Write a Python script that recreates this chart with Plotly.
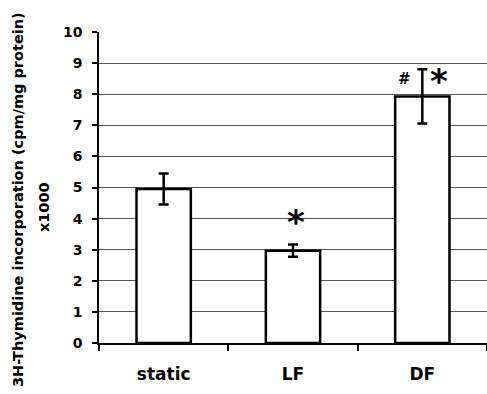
import plotly.graph_objects as go

categories = ["static", "LF", "DF"]
values = [4.95, 2.97, 7.93]
errors = [0.5, 0.2, 0.87]
y_ticks = [0, 1, 2, 3, 4, 5, 6, 7, 8, 9, 10]
grid_vals = [1, 2, 3, 4, 5, 6, 7, 8, 9]
title_line1 = "3H-Thymidine incorporation (cpm/mg protein)"
title_line2 = "x1000"

FONT = "DejaVu Sans, sans-serif"

fig = go.Figure()
fig.add_trace(go.Bar(
    x=categories, y=values, width=0.42,
    marker=dict(color="white", line=dict(color="black", width=2.5)),
    error_y=dict(type="data", array=errors, visible=True, color="black", thickness=2.5, width=5),
))

# significance markers
fig.add_annotation(x="LF", y=values[1] + errors[1], yshift=22, xshift=3, text="<b>*</b>",
                   showarrow=False, font=dict(family=FONT, size=34, color="black"))
fig.add_annotation(x="DF", y=values[2] + errors[2], xshift=-18, yshift=-10, text="<b>#</b>",
                   showarrow=False, font=dict(family=FONT, size=15, color="black"))
fig.add_annotation(x="DF", y=values[2] + errors[2], xshift=17, yshift=-12, text="<b>*</b>",
                   showarrow=False, font=dict(family=FONT, size=34, color="black"))

# axis title (two rotated lines)
fig.add_annotation(xref="paper", yref="paper", x=-0.2088, y=0.463, text="<b>%s</b>" % title_line1,
                   xanchor="center", yanchor="middle",
                   textangle=-90, showarrow=False, font=dict(family=FONT, size=14.5, color="black"))
fig.add_annotation(xref="paper", yref="paper", x=-0.1418, y=0.437, text="<b>%s</b>" % title_line2,
                   xanchor="center", yanchor="middle",
                   textangle=-90, showarrow=False, font=dict(family=FONT, size=14.5, color="black"))

fig.update_layout(
    width=487, height=394,
    margin=dict(l=99, r=0, t=32, b=51, autoexpand=False),
    paper_bgcolor="white", plot_bgcolor="white",
    showlegend=False,
    font=dict(family=FONT, color="black"),
)
fig.update_xaxes(
    range=[-0.5, 2.5], showline=True, linecolor="black", linewidth=1.5,
    ticks="outside", tickson="boundaries", ticklen=6, tickcolor="black", tickwidth=1.5,
    tickfont=dict(family=FONT, size=17, color="black"),
    tickvals=categories, ticktext=["<b>%s</b>" % c for c in categories],
    showgrid=False, automargin=False, ticklabelstandoff=15,
)
fig.update_yaxes(
    range=[0, 10], showline=True, linecolor="black", linewidth=1.5,
    ticks="outside", ticklen=5, tickcolor="black", tickwidth=1.5,
    tickvals=y_ticks, ticktext=["<b>%d</b>" % v for v in y_ticks],
    tickfont=dict(family=FONT, size=14, color="black"),
    showgrid=False, zeroline=False, automargin=False, ticklabelstandoff=7,
    minor=dict(tickvals=grid_vals, showgrid=True, gridcolor="#555555", gridwidth=1.2, ticks=""),
)

fig.write_html("out.html", config={"displayModeBar": False},
               post_script="document.body.style.margin='0px';document.body.style.overflow='hidden';")
